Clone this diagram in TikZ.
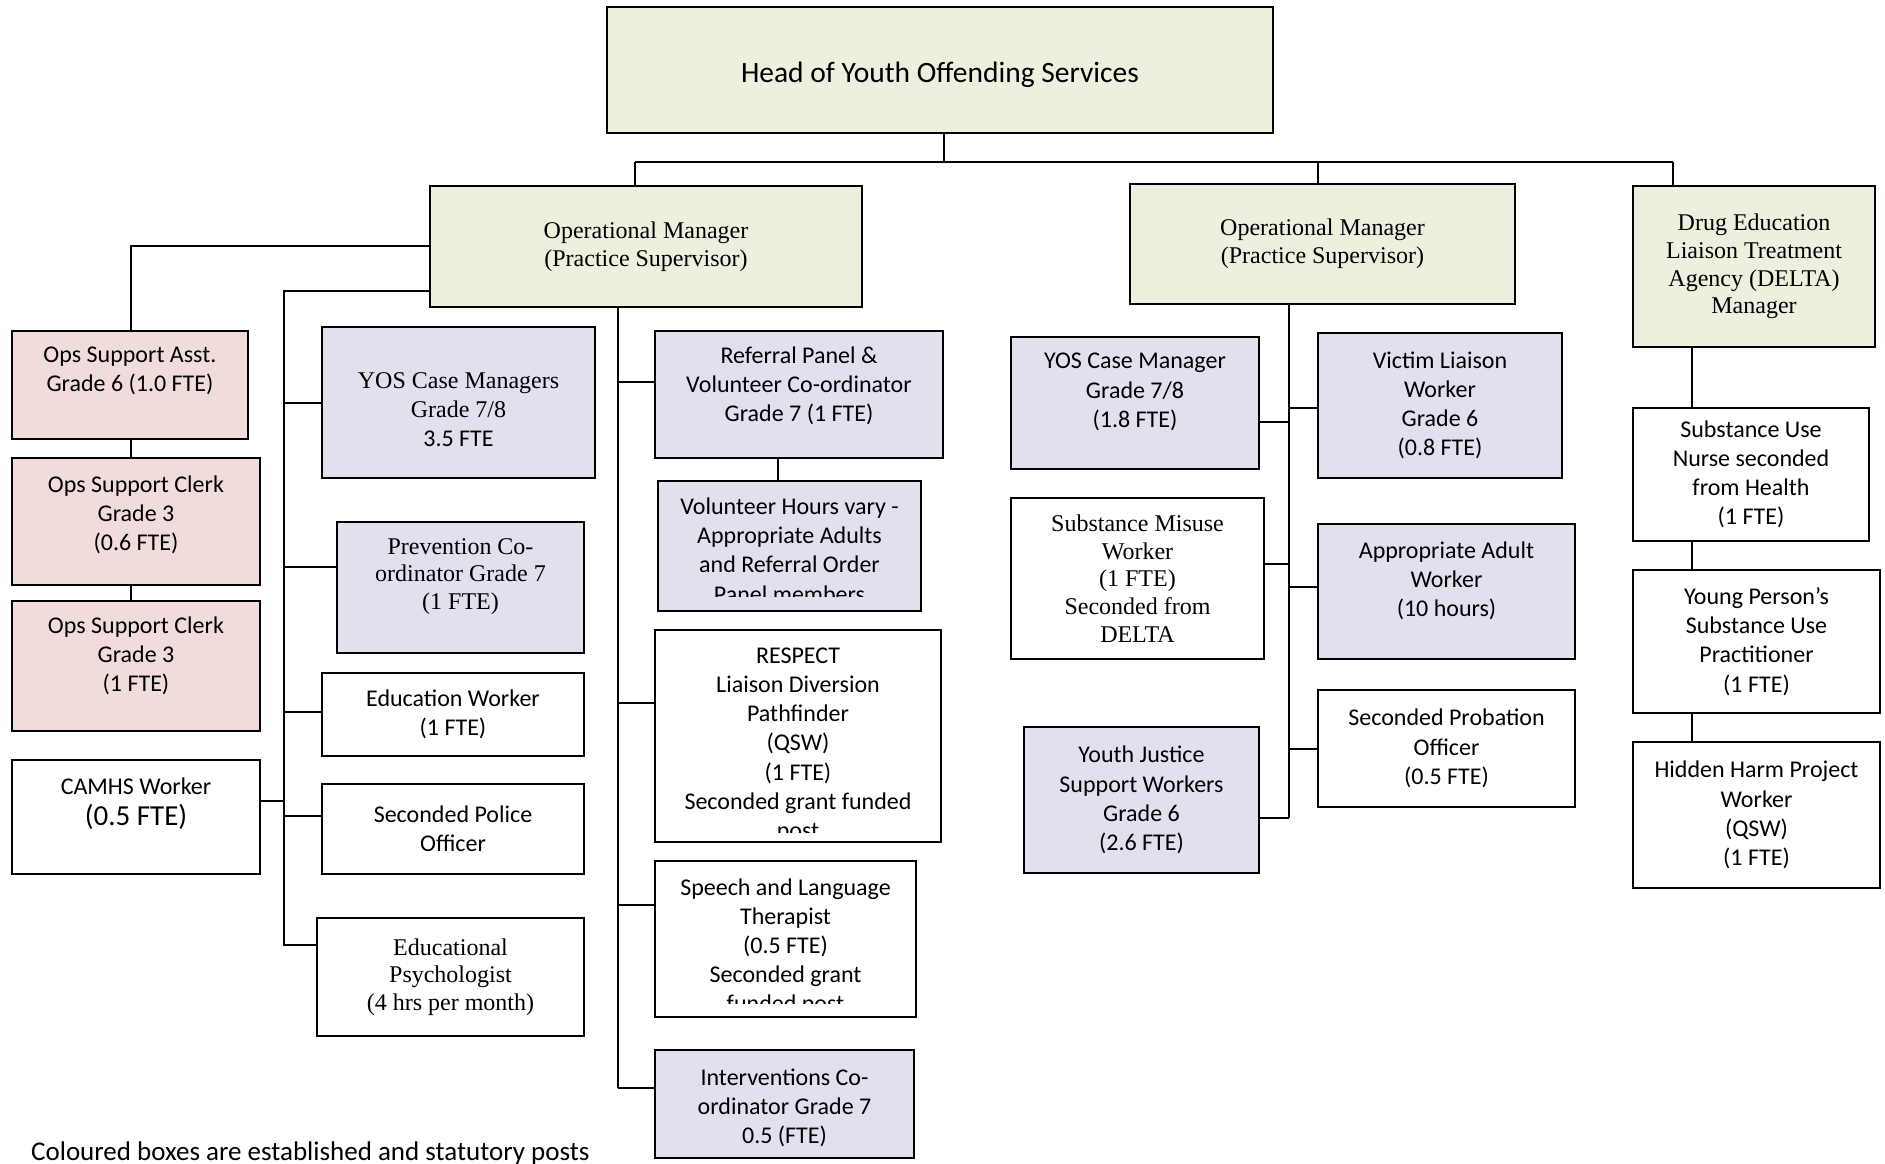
\documentclass[tikz,border=0pt]{standalone}
\usepackage{fontspec}
\setmainfont{Carlito}
\newfontfamily\tnr{Liberation Serif}
\definecolor{mgrgreen}{RGB}{235,241,222}
\definecolor{adminpink}{RGB}{242,220,219}
\definecolor{postlilac}{RGB}{228,223,236}
\tikzset{
  txt/.style={align=center, inner sep=0pt, font=\fontsize{24}{29.2}\selectfont},
  serif/.style={font=\tnr\fontsize{24}{27.6}\selectfont},
  post/.style={txt, draw, line width=1.6pt},
  boxsize/.style 2 args={minimum width=#1pt, minimum height=#2pt},
  mgr/.style={fill=mgrgreen},
  admin/.style={fill=adminpink},
  stat/.style={fill=postlilac},
  link/.style={line width=1.6pt},
}
\begin{document}
\begin{tikzpicture}[x=1pt, y=-1pt]
\useasboundingbox (0,0) rectangle (1885,1163);
% managers
\node[post, mgr, boxsize={666}{126}, font=\fontsize{29.5}{35}\selectfont] (head) at (940,70) {\raisebox{-5pt}[\height][\depth]{Head of Youth Offending Services}};
\node[post, serif, mgr, boxsize={432}{121}] (om1) at (646,246.5) {Operational Manager\\(Practice Supervisor)};
\node[post, serif, mgr, boxsize={385}{120}] (om2) at (1322.5,244) {Operational Manager\\(Practice Supervisor)};
\node[post, serif, mgr, boxsize={242}{161}] (delta) at (1754,266.5) {Drug Education\\Liaison Treatment\\Agency (DELTA)\\Manager};
% admin column
\node[post, admin, boxsize={236}{108}] (opsasst) at (130,385) {Ops Support Asst.\\Grade 6 (1.0 FTE)\\[2pt]\mbox{}};
\node[post, admin, boxsize={248}{127}] (clerk1) at (136,521.5) {Ops Support Clerk\\Grade 3\\(0.6 FTE)\\[-12pt]\mbox{}};
\node[post, admin, boxsize={248}{130}] (clerk2) at (136,666) {Ops Support Clerk\\Grade 3\\(1 FTE)\\[-6pt]\mbox{}};
\node[post, boxsize={248}{114}] (camhs) at (136,817) {CAMHS Worker\\[2pt]{\fontsize{29}{34}\selectfont(0.5 FTE)}\\[2pt]\mbox{}};
% first team
\node[post, stat, boxsize={273}{151}] (yoscm) at (458.5,402.5) {\mbox{}\\[1pt]{\tnr YOS Case Managers}\\{\tnr Grade 7/8}\\3.5 FTE};
\node[post, serif, stat, boxsize={247}{131}] (prev) at (460.5,587.5) {Prevention Co-\\ordinator Grade 7\\(1 FTE)\\\mbox{}};
\node[post, boxsize={262}{83}] (eduw) at (453,714.5) {Education Worker\\(1 FTE)};
\node[post, boxsize={262}{90}] (police) at (453,829) {Seconded Police\\Officer};
\node[post, serif, boxsize={267}{118}] (edpsych) at (450.5,977) {Educational\\Psychologist\\(4 hrs per month)};
\node[post, stat, boxsize={288}{127}] (referral) at (799,394.5) {Referral Panel \&\\Volunteer Co-ordinator\\Grade 7 (1 FTE)\\[-8pt]\mbox{}};
\node[post, stat, boxsize={263}{130}] (volhrs) at (789.5,546) {};
\begin{scope}
\clip (658,481) rectangle (921,596);
\node[txt] (volhrs-t) at (789.5,550) {Volunteer Hours vary -\\Appropriate Adults\\and Referral Order\\Panel members};
\end{scope}
\node[post, boxsize={286}{212}] (respect) at (798,736) {};
\begin{scope}
\clip (655,630) rectangle (941,832);
\node[txt] (respect-t) at (798,745) {RESPECT\\Liaison Diversion\\Pathfinder\\(QSW)\\(1 FTE)\\Seconded grant funded\\post};
\end{scope}
\node[post, boxsize={261}{156}] (speech) at (785.5,939) {};
\begin{scope}
\clip (655,861) rectangle (916,1003);
\node[txt] (speech-t) at (785.5,947) {Speech and Language\\Therapist\\(0.5 FTE)\\Seconded grant\\funded post};
\end{scope}
\node[post, stat, boxsize={259}{108}] (interv) at (784.5,1104) {\mbox{}\\[-5pt]Interventions Co-\\ordinator Grade 7\\0.5 (FTE)};
% second team
\node[post, stat, boxsize={248}{132}] (yoscm2) at (1135,403) {YOS Case Manager\\Grade 7/8\\(1.8 FTE)\\[-4pt]\mbox{}};
\node[post, stat, boxsize={244}{145}] (victim) at (1440,405.5) {Victim Liaison\\Worker\\Grade 6\\(0.8 FTE)};
\node[post, serif, boxsize={253}{161}] (submis) at (1137.5,578.5) {Substance Misuse\\Worker\\(1 FTE)\\Seconded from\\DELTA};
\node[post, stat, boxsize={257}{135}] (appadult) at (1446.5,591.5) {Appropriate Adult\\Worker\\(10 hours)\\[-4pt]\mbox{}};
\node[post, boxsize={257}{117}] (probation) at (1446.5,748.5) {Seconded Probation\\Officer\\(0.5 FTE)};
\node[post, stat, boxsize={235}{146}] (youthjust) at (1141.5,800) {Youth Justice\\Support Workers\\Grade 6\\(2.6 FTE)};
% DELTA team
\node[post, boxsize={236}{133}] (nurse) at (1751,474.5) {Substance Use\\Nurse seconded\\from Health\\(1 FTE)};
\node[post, boxsize={247}{143}] (ypsup) at (1756.5,641.5) {Young Person’s\\Substance Use\\Practitioner\\(1 FTE)};
\node[post, boxsize={247}{146}] (hidden) at (1756.5,815) {Hidden Harm Project\\Worker\\(QSW)\\(1 FTE)};
\node[txt, anchor=base west, font=\fontsize{27}{32}\selectfont] (note) at (31,1160) {Coloured boxes are established and statutory posts};
% lines from head
\coordinate (bar-l) at (635,162);
\coordinate (bar-m) at (1318,162);
\coordinate (bar-r) at (1673,162);
\draw[link] (head.south -| 944,0) -- (944,162);
\draw[link] (bar-l) -- (bar-r);
\draw[link] (bar-l) -- (bar-l |- om1.north);
\draw[link] (bar-m) -- (bar-m |- om2.north);
\draw[link] (bar-r) -- (bar-r |- delta.north);
% admin line
\coordinate (adm) at (131,246);
\draw[link] (adm -| om1.west) -- (adm) -- (adm |- opsasst.north);
\draw[link] (adm |- opsasst.south) -- (adm |- clerk1.north);
\draw[link] (adm |- clerk1.south) -- (adm |- clerk2.north);
% left spine
\coordinate (spa) at (284,291);
\coordinate (spa-end) at (284,945);
\draw[link] (spa -| om1.west) -- (spa) -- (spa-end) -- (spa-end -| edpsych.west);
\foreach \n/\y in {yoscm/403, prev/567, eduw/712, police/816}
  \draw[link] (284,\y) -- (\n.west |- 0,\y);
\draw[link] (camhs.east |- 0,801) -- (284,801);
% middle spine
\coordinate (spb) at (618,1088);
\draw[link] (spb |- om1.south) -- (spb);
\foreach \n/\y in {referral/382, respect/703, speech/905, interv/1088}
  \draw[link] (618,\y) -- (\n.west |- 0,\y);
\draw[link] (referral.south -| 778,0) -- (volhrs.north -| 778,0);
% right spine
\coordinate (spc) at (1289,818);
\draw[link] (spc |- om2.south) -- (spc);
\foreach \n/\y in {victim/408, appadult/587, probation/749}
  \draw[link] (1289,\y) -- (\n.west |- 0,\y);
\foreach \n/\y in {yoscm2/422, submis/564, youthjust/818}
  \draw[link] (\n.east |- 0,\y) -- (1289,\y);
% DELTA column
\draw[link] (delta.south -| 1692,0) -- (nurse.north -| 1692,0);
\draw[link] (nurse.south -| 1692,0) -- (ypsup.north -| 1692,0);
\draw[link] (ypsup.south -| 1692,0) -- (hidden.north -| 1692,0);
\end{tikzpicture}
\end{document}
